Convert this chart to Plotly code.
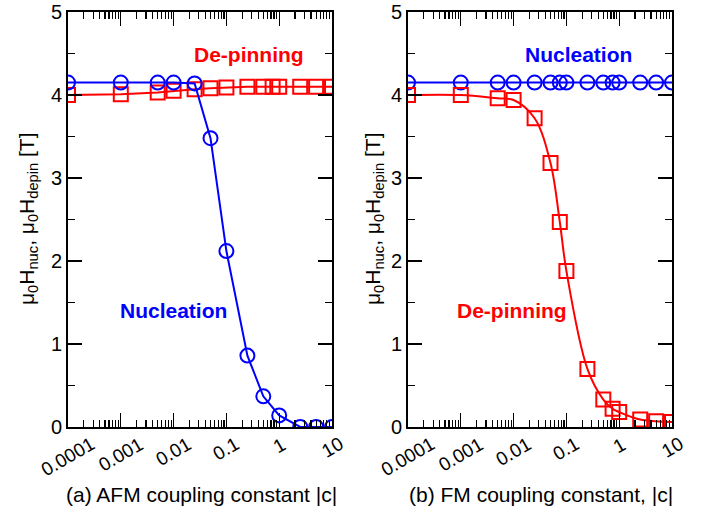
import math
import plotly.graph_objects as go
from plotly.subplots import make_subplots

# ---- data ----
afm_nuc_x = [1e-4, 1e-3, 0.005, 0.01, 0.025, 0.05, 0.1, 0.25, 0.5, 1, 2.5, 5, 10]
afm_nuc_y = [4.15, 4.15, 4.15, 4.15, 4.14, 3.48, 2.12, 0.86, 0.37, 0.14, 0.0, 0.0, 0.0]

afm_dep_x = [1e-4, 1e-3, 0.005, 0.01, 0.025, 0.05, 0.1, 0.25, 0.5, 0.75, 1, 2.5, 5, 10]
afm_dep_y = [4.00, 4.01, 4.03, 4.05, 4.07, 4.08, 4.09, 4.10, 4.10, 4.10, 4.10, 4.10, 4.10, 4.10]

fm_nuc_x = [1e-4, 1e-3, 0.005, 0.01, 0.025, 0.05, 0.075, 0.1, 0.25, 0.5, 0.75, 1, 2.5, 5, 10]
fm_nuc_y = [4.15] * 15

fm_dep_x = [1e-4, 1e-3, 0.005, 0.01, 0.025, 0.05, 0.075, 0.1, 0.25, 0.5, 0.75, 1, 2.5, 5, 10]
fm_dep_y = [4.00, 4.00, 3.96, 3.94, 3.72, 3.18, 2.47, 1.88, 0.70, 0.33, 0.22, 0.18, 0.09, 0.07, 0.06]

x_tickvals = [1e-4, 1e-3, 1e-2, 1e-1, 1, 10]
x_ticktext = ["0.0001", "0.001", "0.01", "0.1", "1", "10"]
y_tickvals = [0, 1, 2, 3, 4, 5]

blue = "#0000ff"
red = "#ff0000"
FONT = "Liberation Sans, Arial, sans-serif"

fig = make_subplots(rows=1, cols=2)

def add(x, y, color, symbol, col, shape="linear"):
    fig.add_trace(go.Scatter(
        x=x, y=y, mode="lines+markers",
        line=dict(color=color, width=2, shape=shape),
        marker=dict(symbol=symbol, size=14, color=color,
                    line=dict(color=color, width=2)),
        showlegend=False, hoverinfo="skip"), row=1, col=col)

add(afm_dep_x, afm_dep_y, red, "square-open", 1)
add(afm_nuc_x, afm_nuc_y, blue, "circle-open", 1)
add(fm_nuc_x, fm_nuc_y, blue, "circle-open", 2)
add(fm_dep_x, fm_dep_y, red, "square-open", 2, shape="spline")

W, H = 708, 513
minor_vals = [m * 10 ** e for e in range(-4, 1) for m in range(2, 10)]

xcommon = dict(type="log", range=[-4, 1], tickvals=x_tickvals, showticklabels=False,
               ticks="inside", ticklen=14, tickwidth=1.3, tickcolor="black",
               showline=True, linecolor="black", linewidth=2,
               mirror="ticks", showgrid=False, zeroline=False, automargin=False,
               minor=dict(tickvals=minor_vals, ticks="inside", ticklen=7,
                          tickwidth=1.2, tickcolor="black", showgrid=False))
ycommon = dict(range=[0, 5], tickvals=y_tickvals,
               ticks="inside", ticklen=14, tickwidth=1.3, tickcolor="black",
               showline=True, linecolor="black", linewidth=2,
               mirror="ticks", showgrid=False, zeroline=False, automargin=False,
               tickfont=dict(family=FONT, size=20, color="black"),
               minor=dict(dtick=0.5, ticks="inside", ticklen=7,
                          tickwidth=1.2, tickcolor="black", showgrid=False))

ytop = 1 - 12 / H
ybot = 1 - 427 / H
fig.update_layout(
    width=W, height=H, margin=dict(l=0, r=0, t=0, b=0, autoexpand=False),
    paper_bgcolor="white", plot_bgcolor="white",
    font=dict(family=FONT, color="black"),
    xaxis=dict(domain=[68 / W, 332 / W], **xcommon),
    xaxis2=dict(domain=[408 / W, 672 / W], **xcommon),
    yaxis=dict(domain=[ybot, ytop], **ycommon),
    yaxis2=dict(domain=[ybot, ytop], **ycommon),
)

ytitle = "μ<sub>0</sub>H<sub>nuc</sub>, μ<sub>0</sub>H<sub>depin</sub> [T]"
ann = [
    dict(x=28 / W, y=1 - 219 / H, text=ytitle, textangle=-90, font=dict(size=21)),
    dict(x=374 / W, y=1 - 219 / H, text=ytitle, textangle=-90, font=dict(size=21)),
    dict(x=201 / W, y=1 - 494 / H, text="(a) AFM coupling constant |c|", font=dict(size=21)),
    dict(x=541 / W, y=1 - 494 / H, text="(b) FM coupling constant, |c|", font=dict(size=21)),
    dict(x=249 / W, y=1 - 55 / H, text="<b>De-pinning</b>", font=dict(size=21, color=red)),
    dict(x=173 / W, y=1 - 310 / H, text="<b>Nucleation</b>", font=dict(size=21, color=blue)),
    dict(x=578 / W, y=1 - 55 / H, text="<b>Nucleation</b>", font=dict(size=21, color=blue)),
    dict(x=512 / W, y=1 - 310 / H, text="<b>De-pinning</b>", font=dict(size=21, color=red)),
]
for a in ann:
    a.update(xref="paper", yref="paper", showarrow=False, xanchor="center", yanchor="middle")
    a["font"].setdefault("family", FONT)
    a["font"].setdefault("color", "black")

# rotated x tick labels, centred under each major tick
for xr in ("x", "x2"):
    for tv, tt in zip(x_tickvals, x_ticktext):
        ann.append(dict(x=math.log10(tv), xref=xr, y=1 - 432 / H, yref="paper",
                        text=tt, textangle=-30, showarrow=False,
                        xanchor="center", yanchor="top", borderpad=0,
                        font=dict(family=FONT, size=19, color="black")))

fig.update_layout(annotations=ann)

fig.write_html("out.html", config={"displayModeBar": False, "staticPlot": True},
               post_script="document.body.style.margin='0';document.body.style.overflow='hidden';")
